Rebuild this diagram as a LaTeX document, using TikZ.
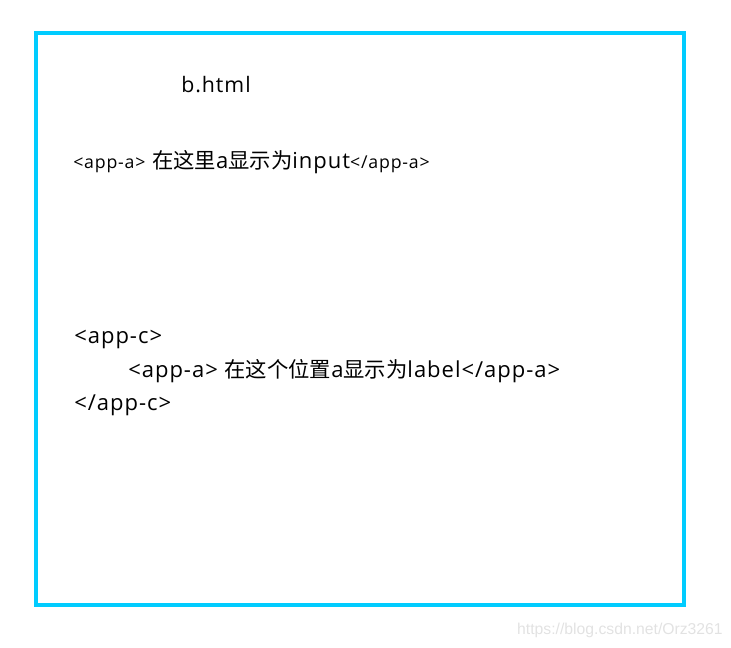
\documentclass[tikz,border=0pt]{standalone}
\usepackage{fontspec}
\setmainfont{Open Sans}[LetterSpace=4.5]
\newfontfamily\cjk{Noto Sans CJK SC}
\newfontfamily\markfont{Liberation Sans}
\definecolor{framecyan}{RGB}{0, 204, 255}
\definecolor{markgray}{RGB}{226, 226, 226}
\usepackage{tikz}
\usetikzlibrary{positioning}
\newcommand{\smalltagfont}{\fontsize{13.3}{16}\selectfont}
\newcommand{\zh}[1]{{\cjk\fontsize{16}{19}\selectfont #1}}

\begin{document}
\begin{tikzpicture}[x=0.75pt, y=-0.75pt,
    codeline/.style={anchor=base west, inner sep=0pt, font=\fontsize{16.5}{19}\selectfont}]
  \useasboundingbox (0,0) rectangle (731,647);

  % page frame
  \draw[framecyan, line width=2.3pt] (36,33) rectangle (684,605);

  % title
  \node[codeline, font=\fontsize{16}{19}\selectfont] (title) at (181,92) {b.html};

  % direct use of app-a
  \node[codeline] (direct) at (73,168) {{\smalltagfont<app-a>} \zh{在这里}a\zh{显示为}input{\smalltagfont</app-a>}};

  % app-a inside app-c
  \node[codeline] (copen) at (74,343) {<app-c>};
  \node[codeline] (nested) at (128,377) {<app-a> \zh{在这个位置}a\zh{显示为}label</app-a>};
  \node[codeline] (cclose) at (74,410) {</app-c>};

  % watermark
  \node[anchor=base east, inner sep=0pt, text=markgray, font=\markfont\fontsize{11.8}{13}\selectfont] (mark) at (723,634) {https://blog.csdn.net/Orz3261};
\end{tikzpicture}
\end{document}
